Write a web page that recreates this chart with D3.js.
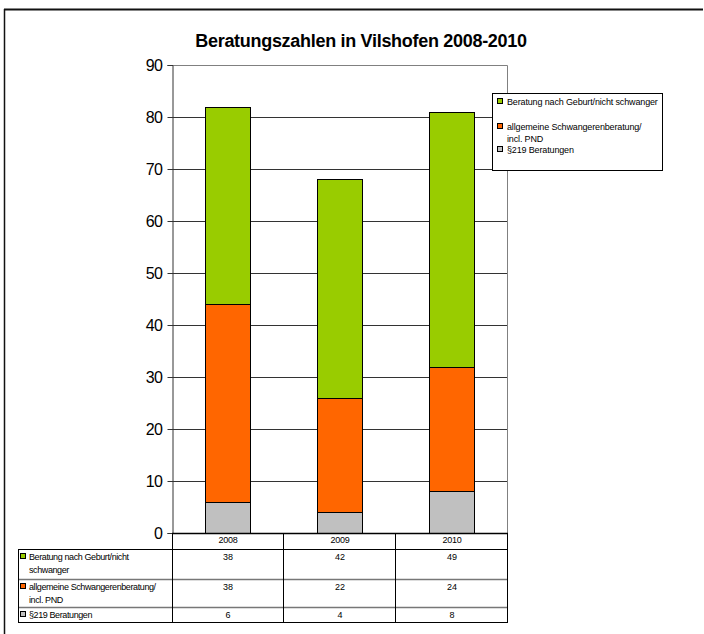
<!DOCTYPE html>
<html><head><meta charset="utf-8">
<script src="https://cdn.jsdelivr.net/npm/d3@7"></script>
<style>body{margin:0;background:#fff}svg{display:block;font-family:"Liberation Sans",Arial,sans-serif}</style>
</head><body><svg id="c" width="704" height="634"></svg>
<script>
const title = "Beratungszahlen in Vilshofen 2008-2010";
const years = ["2008", "2009", "2010"];
const seriesNames = ["§219 Beratungen", "allgemeine Schwangerenberatung/ incl. PND", "Beratung nach Geburt/nicht schwanger"];
const seriesColors = ["#C0C0C0", "#FF6600", "#99CC00"];
const para219 = [6, 4, 8];
const allgemeine = [38, 22, 24];
const nachGeburt = [38, 42, 49];
const yTicks = [0, 10, 20, 30, 40, 50, 60, 70, 80, 90];

const svg = d3.select("#c");
const L = 172, R = 508, T = 65, B = 533;
const x = d3.scaleBand().domain(years).range([L, R]).padding(0);
const y = d3.scaleLinear().domain([0, 90]).range([B, T]);

// outer frame
svg.append("line").attr("x1",4).attr("x2",703).attr("y1",9.5).attr("y2",9.5).attr("stroke","#111").attr("stroke-width",2);
svg.append("line").attr("x1",4.5).attr("x2",4.5).attr("y1",9).attr("y2",634).attr("stroke","#111").attr("stroke-width",1.5);

svg.append("text").attr("x",361).attr("y",47).attr("text-anchor","middle")
  .attr("font-size",18).attr("font-weight","bold").attr("letter-spacing",-0.3).text(title);

// grid
svg.append("g").selectAll("line").data(yTicks.filter(d=>d>0 && d<90)).join("line")
  .attr("x1",L).attr("x2",R).attr("y1",d=>Math.round(y(d))+0.5).attr("y2",d=>Math.round(y(d))+0.5)
  .attr("stroke","#333").attr("stroke-width",1);
// plot border top/right
svg.append("path").attr("d",`M${L},${T+0.5}H${R-0.5}V${B}`).attr("fill","none").attr("stroke","#808080");

// y axis
const ya = d3.axisLeft(y).tickValues(yTicks).tickSize(5).tickPadding(5);
const gy = svg.append("g").attr("transform",`translate(${L+0.5},0)`).call(ya);
gy.select(".domain").attr("stroke","#333");
gy.selectAll(".tick line").attr("stroke","#333");
gy.selectAll("text").attr("font-size",16).attr("font-family","Liberation Sans, Arial").attr("fill","#000").attr("letter-spacing",-0.5);

// stacked bars
const table = years.map((yr,i)=>({year:yr, s0:para219[i], s1:allgemeine[i], s2:nachGeburt[i]}));
const stack = d3.stack().keys(["s0","s1","s2"])(table);
const bw = x.bandwidth()*0.4;
svg.append("g").selectAll("g").data(stack).join("g").attr("fill",(d,i)=>seriesColors[i])
  .selectAll("rect").data(d=>d).join("rect")
  .attr("x",d=>Math.round(x(d.data.year)+(x.bandwidth()-bw)/2)-0.5)
  .attr("width",Math.round(bw))
  .attr("y",d=>Math.round(y(d[1]))+0.5)
  .attr("height",d=>Math.round(y(d[0]))-Math.round(y(d[1])))
  .attr("stroke","#000").attr("stroke-width",1);

// x axis base
svg.append("line").attr("x1",L).attr("x2",R).attr("y1",B+0.5).attr("y2",B+0.5).attr("stroke","#000").attr("stroke-width",1.5);

// data table
const TL = 18;
const rowsY = [533, 549, 579, 607, 622];
const tg = svg.append("g");
tg.append("line").attr("x1",L).attr("x2",R).attr("y1",rowsY[1]+0.5).attr("y2",rowsY[1]+0.5).attr("stroke","#000");
tg.append("line").attr("x1",TL).attr("x2",L).attr("y1",rowsY[1]+0.5).attr("y2",rowsY[1]+0.5).attr("stroke","#000");
[rowsY[2], rowsY[3]].forEach(v=>{
  tg.append("line").attr("x1",TL).attr("x2",R).attr("y1",v+0.5).attr("y2",v+0.5).attr("stroke","#777").attr("stroke-width",1.5);
});
tg.append("line").attr("x1",TL).attr("x2",R).attr("y1",rowsY[4]+0.5).attr("y2",rowsY[4]+0.5).attr("stroke","#000");
tg.append("line").attr("x1",TL+0.5).attr("x2",TL+0.5).attr("y1",rowsY[1]).attr("y2",rowsY[4]+1).attr("stroke","#000");
tg.append("line").attr("x1",L+0.5).attr("x2",L+0.5).attr("y1",B).attr("y2",rowsY[4]+1).attr("stroke","#000");
years.forEach((yr,i)=>{
  const xe = x(yr)+x.bandwidth();
  tg.append("line").attr("x1",Math.round(xe)-0.5).attr("x2",Math.round(xe)-0.5).attr("y1",B).attr("y2",rowsY[4]+1).attr("stroke","#000").attr("stroke-width",1);
  tg.append("text").attr("x",x(yr)+x.bandwidth()/2).attr("y",543).attr("text-anchor","middle").attr("font-size",9).attr("letter-spacing",-0.3).text(yr);
});
const rowDefs = [
  {lines:["Beratung nach Geburt/nicht","schwanger"], vals:nachGeburt, color:seriesColors[2], base:560},
  {lines:["allgemeine Schwangerenberatung/","incl. PND"], vals:allgemeine, color:seriesColors[1], base:590},
  {lines:["§219 Beratungen"], vals:para219, color:seriesColors[0], base:618}
];
rowDefs.forEach(r=>{
  tg.append("rect").attr("x",20.5).attr("y",r.base-6.5).attr("width",5).attr("height",5).attr("fill",r.color).attr("stroke","#000");
  r.lines.forEach((t,k)=>tg.append("text").attr("x",29).attr("y",r.base+k*13).attr("font-size",9).attr("letter-spacing",-0.4).text(t));
  r.vals.forEach((v,i)=>tg.append("text").attr("x",x(years[i])+x.bandwidth()/2).attr("y",r.base).attr("text-anchor","middle").attr("font-size",9).text(v));
});

// legend
const lg = svg.append("g");
lg.append("rect").attr("x",492.5).attr("y",93.5).attr("width",170).attr("height",77).attr("fill","#fff").attr("stroke","#000");
const legDefs = [
  {lines:["Beratung nach Geburt/nicht schwanger"], color:seriesColors[2], base:105},
  {lines:["allgemeine Schwangerenberatung/","incl. PND"], color:seriesColors[1], base:130},
  {lines:["§219 Beratungen"], color:seriesColors[0], base:153}
];
legDefs.forEach(r=>{
  lg.append("rect").attr("x",497.5).attr("y",r.base-6.5).attr("width",5).attr("height",5).attr("fill",r.color).attr("stroke","#000");
  r.lines.forEach((t,k)=>lg.append("text").attr("x",507).attr("y",r.base+k*12).attr("font-size",9).attr("letter-spacing",-0.15).text(t));
});
</script></body></html>
